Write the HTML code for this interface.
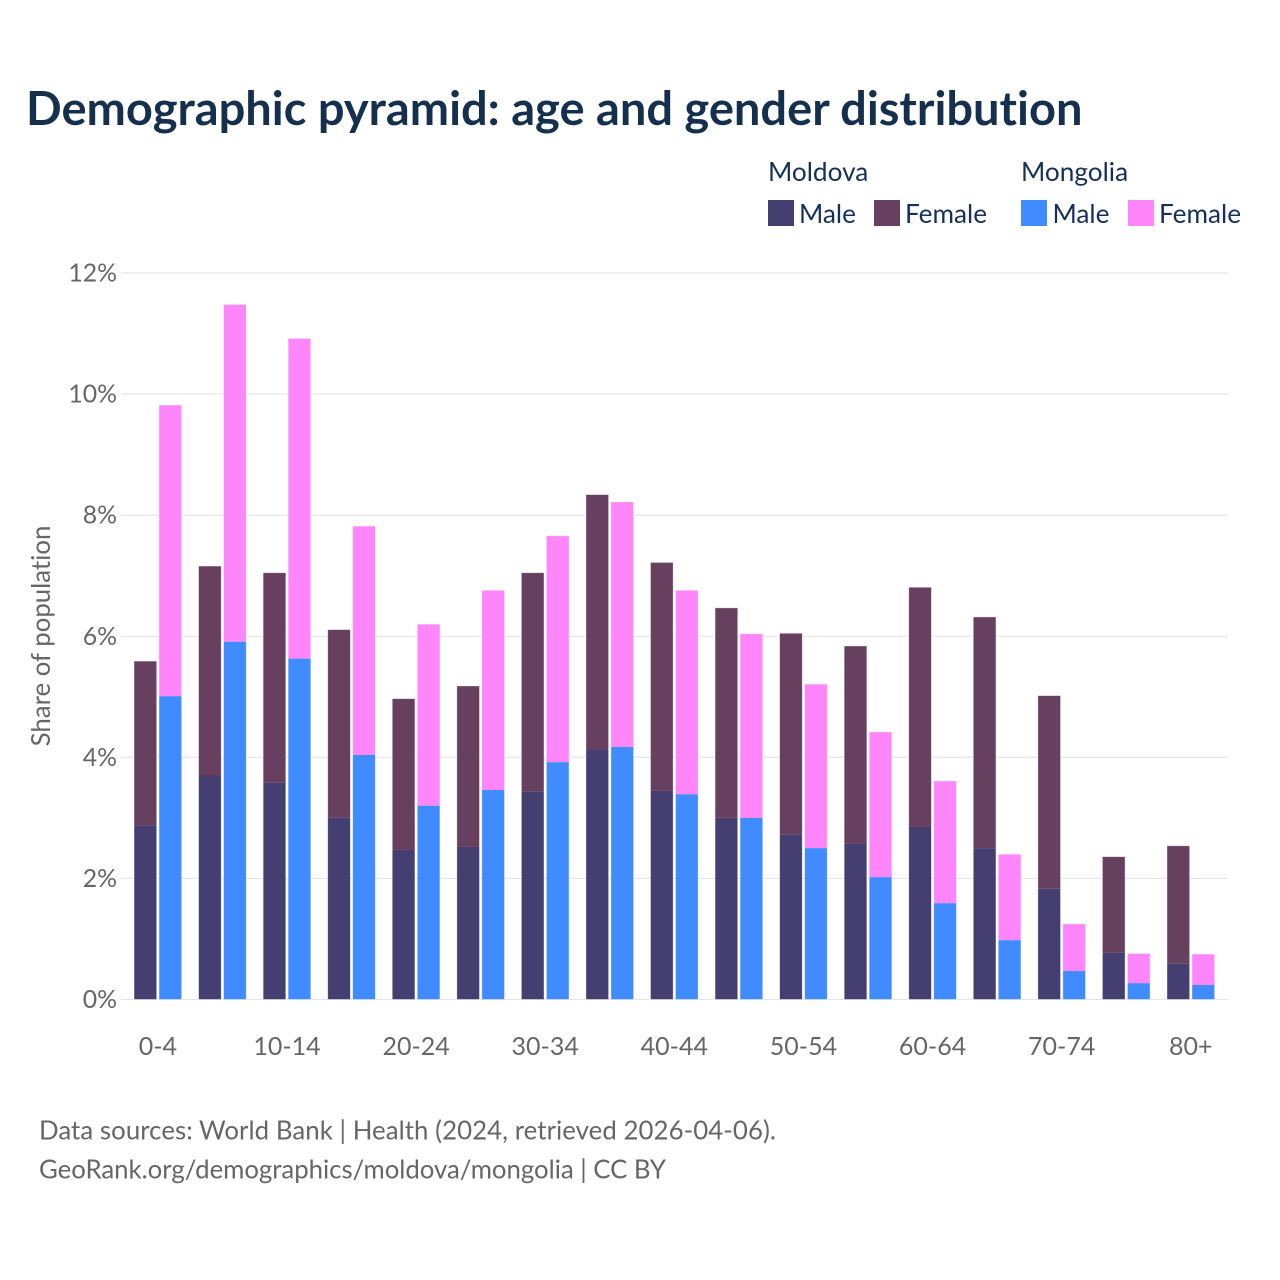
<!DOCTYPE html>
<html lang="en">
<head>
<meta charset="utf-8">
<title>Demographic pyramid: age and gender distribution</title>
<style>
  html, body { margin: 0; padding: 0; background: #fff; }
  svg { display: block; font-family: "Lato", "Carlito", "Liberation Sans", sans-serif; font-variant-ligatures: none; }
  .legend-text { font-size: 26.2px; fill: #15305a; }
  .muted { fill: #666; }
</style>
</head>
<body>
<svg id="chart" width="1280" height="1280" viewBox="0 0 1280 1280" xmlns="http://www.w3.org/2000/svg">
  <rect x="0" y="0" width="1280" height="1280" fill="#fff"/>
  <text x="26" y="125" font-size="47" font-weight="700" fill="#15304f">Demographic pyramid: age and gender distribution</text>

  <g>
    <text class="legend-text" x="768" y="181">Moldova</text>
    <text class="legend-text" x="1021" y="181">Mongolia</text>
    <rect x="768" y="200" width="26" height="26" fill="#443f70"/>
    <text class="legend-text" x="799" y="223">Male</text>
    <rect x="874" y="200" width="26" height="26" fill="#674060"/>
    <text class="legend-text" x="905" y="223">Female</text>
    <rect x="1021" y="200" width="26" height="26" fill="#3f8bff"/>
    <text class="legend-text" x="1052.5" y="223">Male</text>
    <rect x="1128" y="200" width="26" height="26" fill="#ff85fa"/>
    <text class="legend-text" x="1159" y="223">Female</text>
  </g>

  <g id="grid"></g>
  <g id="yticks"></g>
  <g id="bars"></g>
  <g id="xticks"></g>

  <text class="muted" transform="translate(50,636) rotate(-90)" text-anchor="middle" font-size="25.8">Share of population</text>

  <text class="muted" x="39" y="1139.5" font-size="25.8" textLength="737" lengthAdjust="spacing">Data sources: World Bank | Health (2024, retrieved 2026-04-06).</text>
  <text class="muted" x="39" y="1178.5" font-size="25.8" textLength="627" lengthAdjust="spacing">GeoRank.org/demographics/moldova/mongolia | CC BY</text>
</svg>

<script>
const categories = ["0-4","5-9","10-14","15-19","20-24","25-29","30-34","35-39","40-44","45-49","50-54","55-59","60-64","65-69","70-74","75-79","80+"];
const xTickLabels = ["0-4","10-14","20-24","30-34","40-44","50-54","60-64","70-74","80+"];
const yTickValues = [0, 2, 4, 6, 8, 10, 12];
const moldovaMale = [2.88,3.70,3.58,3.00,2.47,2.52,3.44,4.13,3.45,3.00,2.73,2.57,2.85,2.50,1.83,0.77,0.59];
const moldovaFemale = [2.71,3.46,3.47,3.11,2.50,2.66,3.61,4.21,3.77,3.47,3.32,3.27,3.96,3.82,3.19,1.59,1.95];
const mongoliaMale = [5.01,5.91,5.63,4.04,3.20,3.46,3.92,4.17,3.39,3.00,2.50,2.02,1.59,0.98,0.47,0.27,0.24];
const mongoliaFemale = [4.81,5.57,5.29,3.78,3.00,3.30,3.74,4.05,3.37,3.04,2.71,2.40,2.02,1.42,0.78,0.49,0.51];

const SVG_NS = "http://www.w3.org/2000/svg";
const yScale = function (v) { return 999.5 - v * 60.54; };
const xCenter = function (i) { return 157.85 + i * 64.56; };
const BAR_W = 22.7;
const BAR_OFFSET = 1.15;

function make(tag, attrs, parent) {
  const el = document.createElementNS(SVG_NS, tag);
  for (const k in attrs) el.setAttribute(k, attrs[k]);
  parent.appendChild(el);
  return el;
}

const grid = document.getElementById("grid");
const yticks = document.getElementById("yticks");
yTickValues.forEach(function (v) {
  const line = make("line", { x1: 121, x2: 1228, y1: yScale(v), y2: yScale(v), stroke: "#e4e4e4", "stroke-width": 1.1 }, grid);
  
  
  const label = make("text", { x: 117, y: yScale(v) + 8.5, "text-anchor": "end", "font-size": 24.8, class: "muted" }, yticks);
  
  
  label.textContent = v + "%";
});

const barsGroup = document.getElementById("bars");
function drawStack(i, x, male, female, maleColor, femaleColor, country) {
  const topMale = yScale(male);
  const topTotal = yScale(male + female);
  const femaleBar = make("rect", { x: x, y: topTotal, width: BAR_W, height: topMale - topTotal, fill: femaleColor }, barsGroup);
  
  
  const maleBar = make("rect", { x: x, y: topMale, width: BAR_W, height: yScale(0) - topMale, fill: maleColor }, barsGroup);
  
  
  const outline = make("rect", { x: x, y: topTotal, width: BAR_W, height: yScale(0) - topTotal, fill: "none", stroke: "rgba(255,255,255,0.55)", "stroke-width": 0.8 }, barsGroup);
  
  
}

categories.forEach(function (cat, i) {
  const c = xCenter(i);
  drawStack(i, c - BAR_OFFSET - BAR_W, moldovaMale[i], moldovaFemale[i], "#443f70", "#674060", "moldova");
  drawStack(i, c + BAR_OFFSET, mongoliaMale[i], mongoliaFemale[i], "#3f8bff", "#ff85fa", "mongolia");
});

const xticks = document.getElementById("xticks");
xTickLabels.forEach(function (lab) {
  const i = categories.indexOf(lab);
  const t = make("text", { x: xCenter(i), y: 1055, "text-anchor": "middle", "font-size": 25, class: "muted" }, xticks);
  
  
  t.textContent = lab;
});
</script>
</body>
</html>
